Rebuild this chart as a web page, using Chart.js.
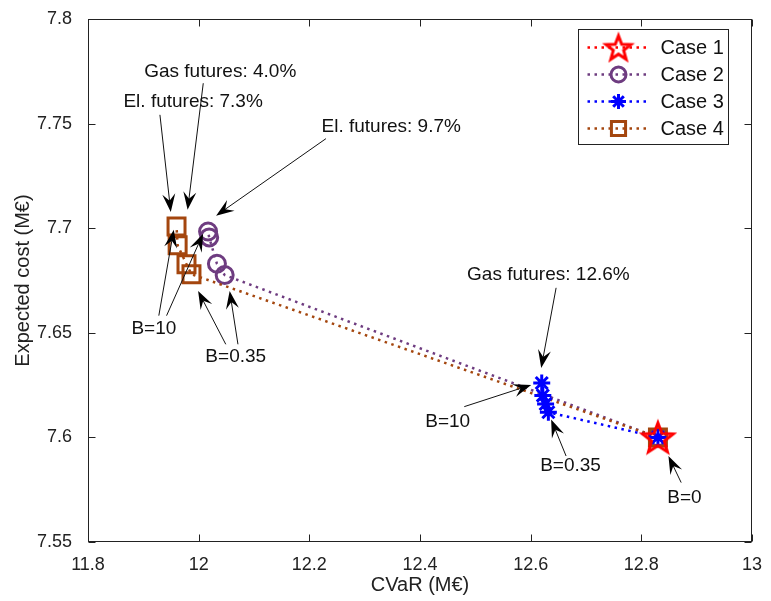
<!DOCTYPE html>
<html>
<head>
<meta charset="utf-8">
<style>
html,body{margin:0;padding:0;background:#fff;}
canvas{display:block;}
</style>
<script src="https://cdn.jsdelivr.net/npm/chart.js@4.4.1/dist/chart.umd.min.js"></script>
</head>
<body>
<canvas id="c" width="771" height="601"></canvas>
<script>
// Expected cost versus CVaR for four hedging cases
const caseLabels = ['Case 1', 'Case 2', 'Case 3', 'Case 4'];
const caseColors = ['#ff0000', '#6e3c80', '#0000ff', '#a4460e'];

const case1Cvar = [12.830];
const case1Cost = [7.600];
const case2Cvar = [12.830, 12.047, 12.033, 12.019, 12.017];
const case2Cost = [7.600, 7.6776, 7.6830, 7.6956, 7.6984];
const case3Cvar = [12.830, 12.632, 12.627, 12.622, 12.620];
const case3Cost = [7.600, 7.6120, 7.6160, 7.6200, 7.6260];
const case4Cvar = [12.830, 11.987, 11.978, 11.962, 11.960];
const case4Cost = [7.600, 7.6780, 7.6828, 7.6918, 7.7008];

const xTicks = [11.8, 12, 12.2, 12.4, 12.6, 12.8, 13];
const yTicks = [7.55, 7.6, 7.65, 7.7, 7.75, 7.8];

// Text notes (centre position in axis units)
const noteText = ['Gas futures: 4.0%', 'El. futures: 7.3%', 'El. futures: 9.7%', 'B=10', 'B=0.35',
                  'Gas futures: 12.6%', 'B=10', 'B=0.35', 'B=0'];
const noteX = [12.039, 11.990, 12.348, 11.919, 12.067, 12.632, 12.450, 12.672, 12.878];
const noteY = [7.7750, 7.7603, 7.7485, 7.6520, 7.6384, 7.6776, 7.6077, 7.5864, 7.5713];

// Arrows: tail (x0,y0) to head (x1,y1) in axis units
const arrowX0 = [11.930, 12.0083, 12.230, 11.928, 11.942, 12.049, 12.071, 12.646, 12.480, 12.664, 12.872];
const arrowY0 = [7.7542, 7.7693, 7.7428, 7.6582, 7.6582, 7.6445, 7.6445, 7.6715, 7.6147, 7.5911, 7.5784];
const arrowX1 = [11.9496, 11.980, 12.0315, 11.955, 12.008, 11.999, 12.056, 12.619, 12.601, 12.637, 12.849];
const arrowY1 = [7.7078, 7.7088, 7.7060, 7.6993, 7.6974, 7.6700, 7.6700, 7.6332, 7.6251, 7.6086, 7.5911];

const FONT = "'Liberation Sans', Arial, Helvetica, sans-serif";

function pentagram(r, color, lw) {
  const s = Math.ceil(2 * r + 2 * lw + 2);
  const c = document.createElement('canvas');
  c.width = s; c.height = s;
  const g = c.getContext('2d');
  g.translate(s / 2, s / 2 + r * 0.09);
  g.beginPath();
  for (let i = 0; i < 10; i++) {
    const rr = i % 2 ? r * 0.42 : r;
    const a = -Math.PI / 2 + i * Math.PI / 5;
    g.lineTo(rr * Math.cos(a), rr * Math.sin(a));
  }
  g.closePath();
  g.strokeStyle = color;
  g.lineWidth = lw;
  g.lineJoin = 'miter';
  g.stroke();
  return c;
}
const starImg = pentagram(16, caseColors[0], 3);
const starLegendImg = pentagram(13, caseColors[0], 3);

function pts(xs, ys) { return xs.map((v, i) => ({ x: v, y: ys[i] })); }

const markerStyles = [starImg, 'circle', 'star', 'rect'];
const markerRadius = [16, 8.5, 8.5, 12];
const series = [pts(case1Cvar, case1Cost), pts(case2Cvar, case2Cost), pts(case3Cvar, case3Cost), pts(case4Cvar, case4Cost)];

const datasets = series.map((d, i) => ({
  label: caseLabels[i],
  data: d,
  showLine: true,
  borderColor: caseColors[i],
  backgroundColor: 'rgba(0,0,0,0)',
  borderWidth: 2.5,
  borderDash: [2.5, 4.5],
  pointStyle: markerStyles[i],
  pointRadius: markerRadius[i],
  pointBorderWidth: 3,
  pointBorderColor: caseColors[i],
  pointBackgroundColor: 'rgba(0,0,0,0)',
  order: [0, 3, 1, 2][i]
}));

// Box frame with inward tick marks on all four sides
const framePlugin = {
  id: 'frame',
  afterDraw(chart) {
    const { ctx, chartArea: a, scales: { x, y } } = chart;
    const L = Math.round(a.left) + 0.5, R = Math.round(a.right) - 0.5;
    const T = Math.round(a.top) + 0.5, B = Math.round(a.bottom) - 0.5;
    ctx.save();
    ctx.strokeStyle = '#222';
    ctx.lineWidth = 1;
    ctx.strokeRect(L, T, R - L, B - T);
    ctx.beginPath();
    const tl = 7;
    xTicks.forEach(v => {
      const px = Math.round(x.getPixelForValue(v)) + 0.5;
      ctx.moveTo(px, B); ctx.lineTo(px, B - tl);
      ctx.moveTo(px, T); ctx.lineTo(px, T + tl);
    });
    yTicks.forEach(v => {
      const py = Math.round(y.getPixelForValue(v)) + 0.5;
      ctx.moveTo(L, py); ctx.lineTo(L + tl, py);
      ctx.moveTo(R, py); ctx.lineTo(R - tl, py);
    });
    ctx.stroke();
    ctx.restore();
  }
};

// Notes and arrows placed through the scales
const notesPlugin = {
  id: 'notes',
  afterDatasetsDraw(chart) {
    const { ctx, scales: { x, y } } = chart;
    ctx.save();
    ctx.fillStyle = '#111';
    ctx.font = '19px ' + FONT;
    ctx.textAlign = 'center';
    ctx.textBaseline = 'middle';
    noteText.forEach((t, i) => ctx.fillText(t, x.getPixelForValue(noteX[i]), y.getPixelForValue(noteY[i])));
    ctx.strokeStyle = '#111';
    ctx.lineWidth = 1;
    for (let i = 0; i < arrowX0.length; i++) {
      const x0 = x.getPixelForValue(arrowX0[i]), y0 = y.getPixelForValue(arrowY0[i]);
      const x1 = x.getPixelForValue(arrowX1[i]), y1 = y.getPixelForValue(arrowY1[i]);
      const ang = Math.atan2(y1 - y0, x1 - x0);
      const c = Math.cos(ang), s = Math.sin(ang);
      const hl = 18, hw = 6.5;
      ctx.beginPath();
      ctx.moveTo(x0, y0);
      ctx.lineTo(x1 - c * hl * 0.6, y1 - s * hl * 0.6);
      ctx.stroke();
      const bx = x1 - c * hl, by = y1 - s * hl;
      ctx.beginPath();
      ctx.moveTo(x1, y1);
      ctx.lineTo(bx - s * hw, by + c * hw);
      ctx.lineTo(x1 - c * hl * 0.62, y1 - s * hl * 0.62);
      ctx.lineTo(bx + s * hw, by - c * hw);
      ctx.closePath();
      ctx.fillStyle = '#000';
      ctx.fill();
    }
    ctx.restore();
  }
};

// Legend box in the upper right corner
const legendPlugin = {
  id: 'boxLegend',
  afterDraw(chart) {
    const { ctx, chartArea: a } = chart;
    const bw = 150, bh = 115;
    const bx = Math.round(a.right - 24 - bw) + 0.5, by = Math.round(a.top + 10) + 0.5;
    ctx.save();
    ctx.fillStyle = '#fff';
    ctx.fillRect(bx, by, bw, bh);
    ctx.strokeStyle = '#222';
    ctx.lineWidth = 1;
    ctx.strokeRect(bx, by, bw, bh);
    chart.data.datasets.forEach((ds, i) => {
      const cy = by + 18 + i * 27;
      ctx.save();
      ctx.strokeStyle = ds.borderColor;
      ctx.lineWidth = 2.5;
      ctx.setLineDash([2.5, 4.5]);
      ctx.beginPath();
      ctx.moveTo(bx + 9, cy); ctx.lineTo(bx + 72, cy);
      ctx.stroke();
      ctx.restore();
      ctx.save();
      ctx.strokeStyle = ds.borderColor;
      ctx.fillStyle = 'rgba(0,0,0,0)';
      ctx.lineWidth = 3;
      if (ds.pointStyle === starImg) {
        ctx.drawImage(starLegendImg, bx + 40 - starLegendImg.width / 2, cy - starLegendImg.height / 2);
      } else {
        const r = ds.pointStyle === 'rect' ? 10 : 7.5;
        Chart.helpers.drawPoint(ctx, { pointStyle: ds.pointStyle, radius: r, borderWidth: 3, rotation: 0 }, bx + 40, cy);
      }
      ctx.restore();
      ctx.fillStyle = '#111';
      ctx.font = '20px ' + FONT;
      ctx.textAlign = 'left';
      ctx.textBaseline = 'middle';
      ctx.fillText(ds.label, bx + 82, cy + 1);
    });
    ctx.restore();
  }
};

new Chart(document.getElementById('c'), {
  type: 'scatter',
  data: { datasets },
  options: {
    responsive: false,
    animation: false,
    layout: { padding: { left: 0, top: 13, right: 9, bottom: 0 } },
    plugins: { legend: { display: false }, tooltip: { enabled: false } },
    scales: {
      x: {
        type: 'linear', min: 11.8, max: 13,
        afterBuildTicks: s => { s.ticks = xTicks.map(v => ({ value: v })); },
        afterFit: s => { s.height = 59; },
        grid: { display: false },
        border: { display: false },
        ticks: { autoSkip: false, maxRotation: 0, padding: 4, color: '#222', font: { size: 18, family: FONT },
                 callback: v => String(v) },
        title: { display: true, text: 'CVaR (M€)', color: '#222', font: { size: 20, family: FONT }, padding: { top: 0, bottom: 4 } }
      },
      y: {
        type: 'linear', min: 7.55, max: 7.8,
        afterBuildTicks: s => { s.ticks = yTicks.map(v => ({ value: v })); },
        afterFit: s => { s.width = 88; },
        grid: { display: false },
        border: { display: false },
        ticks: { autoSkip: false, padding: 8, color: '#222', font: { size: 18, family: FONT },
                 callback: v => String(v) },
        title: { display: true, text: 'Expected cost (M€)', color: '#222', font: { size: 20, family: FONT }, padding: { top: 11, bottom: 0 } }
      }
    }
  },
  plugins: [framePlugin, notesPlugin, legendPlugin]
});
</script>
</body>
</html>
